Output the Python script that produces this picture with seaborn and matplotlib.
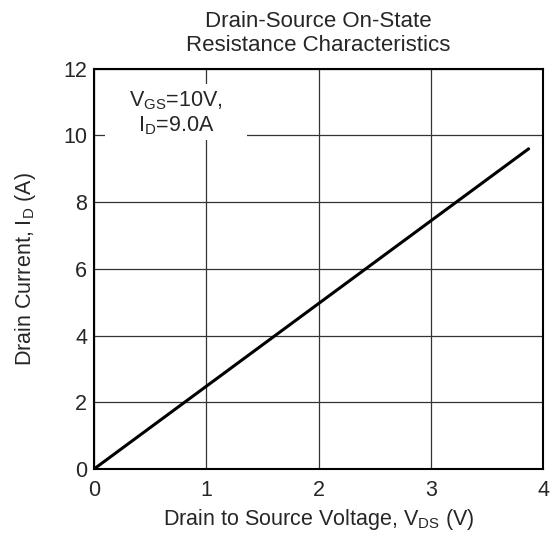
import numpy as np
import pandas as pd
import seaborn as sns
import matplotlib.pyplot as plt
from matplotlib.patches import Rectangle

# curve (straight line through the origin)
vds = [0.0, 3.87]
id_a = [0.0, 9.6]

x_ticks = [0, 1, 2, 3, 4]
y_ticks = [0, 2, 4, 6, 8, 10, 12]

sns.set_style("white")
plt.rcParams["font.family"] = ["Liberation Sans", "DejaVu Sans"]
plt.rcParams["mathtext.fontset"] = "custom"
plt.rcParams["mathtext.rm"] = "Liberation Sans"

df = pd.DataFrame({"vds": vds, "id": id_a})

fig = plt.figure(figsize=(5.56, 5.33), dpi=100)
ax = fig.add_axes([0.169, 0.120, 0.808, 0.751])

sns.lineplot(data=df, x="vds", y="id", color="black", linewidth=2.2, ax=ax, zorder=3)

ax.set_xlim(0, 4)
ax.set_ylim(0, 12)
ax.set_xticks(x_ticks)
ax.set_yticks(y_ticks)
ax.grid(True, color="#333333", linewidth=0.9)
for s in ax.spines.values():
    s.set_color("black")
    s.set_linewidth(1.5)
ax.tick_params(axis="both", labelsize=15.5, length=0)
ax.tick_params(axis="x", pad=8)
ax.tick_params(axis="y", pad=5)

ax.set_xlabel("Drain to Source Voltage, V$_{\\mathrm{DS}}$ (V)", fontsize=15.5, labelpad=4)
ax.set_ylabel("Drain Current, I$_{\\mathrm{D}}$ (A)", fontsize=15.5, labelpad=18)
ax.set_title("Drain-Source On-State\nResistance Characteristics", fontsize=16, pad=13,
             linespacing=1.15)

# white label box over the grid
ax.add_patch(Rectangle((0.1, 9.85), 1.26, 1.7, facecolor="white", edgecolor="none", zorder=4))
ax.text(0.73, 10.67, "V$_{\\mathrm{GS}}$=10V,\nI$_{\\mathrm{D}}$=9.0A", ha="center", va="center",
        fontsize=15.5, linespacing=1.1, zorder=5)

fig.savefig("out.png", dpi=100)
